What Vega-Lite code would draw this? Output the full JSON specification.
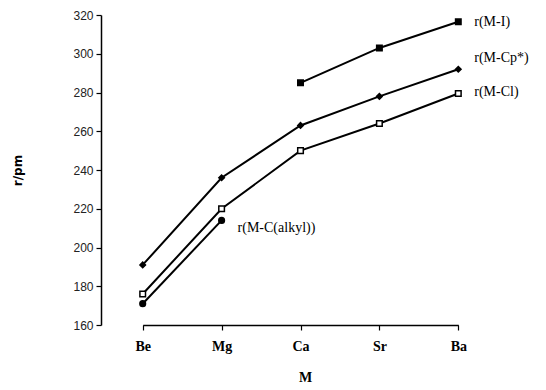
{
  "$schema": "https://vega.github.io/schema/vega-lite/v6.json",
  "autosize": "none",
  "width": 389,
  "height": 310,
  "padding": {"left": 101, "top": 15, "right": 56, "bottom": 65},
  "background": "white",
  "config": {"view": {"stroke": null}},
  "datasets": {
    "pts": [
      {"M": "Ca", "series": "r(M-I)", "r": 285},
      {"M": "Sr", "series": "r(M-I)", "r": 303},
      {"M": "Ba", "series": "r(M-I)", "r": 316.5},
      {"M": "Be", "series": "r(M-Cp*)", "r": 191},
      {"M": "Mg", "series": "r(M-Cp*)", "r": 236},
      {"M": "Ca", "series": "r(M-Cp*)", "r": 263},
      {"M": "Sr", "series": "r(M-Cp*)", "r": 278},
      {"M": "Ba", "series": "r(M-Cp*)", "r": 292},
      {"M": "Be", "series": "r(M-Cl)", "r": 176},
      {"M": "Mg", "series": "r(M-Cl)", "r": 220},
      {"M": "Ca", "series": "r(M-Cl)", "r": 250},
      {"M": "Sr", "series": "r(M-Cl)", "r": 264},
      {"M": "Ba", "series": "r(M-Cl)", "r": 279.5},
      {"M": "Be", "series": "r(M-C(alkyl))", "r": 171},
      {"M": "Mg", "series": "r(M-C(alkyl))", "r": 214}
    ],
    "labels": [
      {"M": "Ba", "r": 316.5, "label": "r(M-I)"},
      {"M": "Ba", "r": 298, "label": "r(M-Cp*)"},
      {"M": "Ba", "r": 280.5, "label": "r(M-Cl)"},
      {"M": "Mg", "r": 210, "label": "r(M-C(alkyl))"}
    ]
  },
  "encoding": {
    "x": {"field": "M", "type": "ordinal", "sort": ["Be", "Mg", "Ca", "Sr", "Ba"],
      "scale": {"type": "point", "domain": ["Be", "Mg", "Ca", "Sr", "Ba"], "range": [41.7, 357.3], "padding": 0},
      "axis": {
        "title": "M", "titleFont": "Liberation Serif", "titleFontSize": 14, "titleFontWeight": "bold",
        "titleColor": "black", "titleY": 52, "titleBaseline": "middle", "titleX": 204,
        "labelFont": "Liberation Serif", "labelFontSize": 14, "labelFontWeight": "bold",
        "labelColor": "black", "labelPadding": 9, "labelAngle": 0,
        "domainColor": "black", "domainWidth": 1.5, "tickColor": "black", "tickSize": 5, "tickWidth": 1.2,
        "grid": false
      }
    },
    "y": {"field": "r", "type": "quantitative",
      "scale": {"domain": [160, 320], "nice": false, "zero": false},
      "axis": {
        "title": "r/pm", "titleFont": "DejaVu Sans", "titleFontSize": 12, "titleFontWeight": "bold",
        "titleColor": "black", "titleAngle": 270, "titleX": -84, "titleY": 155, "titleAlign": "center", "titleBaseline": "middle",
        "values": [160, 180, 200, 220, 240, 260, 280, 300, 320],
        "labelOverlap": false, "labelBound": false, "labelFlush": false,
        "labelFont": "Liberation Sans", "labelFontSize": 12, "labelColor": "#222", "labelPadding": 3,
        "domainColor": "black", "domainWidth": 1.5, "tickColor": "black", "tickSize": 5, "tickWidth": 1.2,
        "grid": false
      }
    }
  },
  "layer": [
    {
      "data": {"name": "pts"},
      "mark": {"type": "line", "color": "black", "strokeWidth": 2},
      "encoding": {
        "detail": {"field": "series"}
      }
    },
    {
      "data": {"name": "pts"},
      "mark": {"type": "point", "filled": false, "stroke": "black", "strokeWidth": 1.5, "opacity": 1},
      "encoding": {
        "shape": {"field": "series", "type": "nominal",
          "scale": {"domain": ["r(M-I)", "r(M-Cp*)", "r(M-Cl)", "r(M-C(alkyl))"], "range": ["square", "diamond", "square", "circle"]},
          "legend": null},
        "fill": {"field": "series", "type": "nominal",
          "scale": {"domain": ["r(M-I)", "r(M-Cp*)", "r(M-Cl)", "r(M-C(alkyl))"], "range": ["black", "black", "white", "black"]},
          "legend": null},
        "size": {"field": "series", "type": "nominal",
          "scale": {"domain": ["r(M-I)", "r(M-Cp*)", "r(M-Cl)", "r(M-C(alkyl))"], "range": [30, 32, 22, 25]},
          "legend": null}
      }
    },
    {
      "data": {"name": "labels"},
      "mark": {"type": "text", "align": "left", "baseline": "middle", "dx": 16, "font": "Liberation Serif", "fontSize": 14, "color": "black"},
      "encoding": {
        "text": {"field": "label"}
      }
    }
  ]
}
